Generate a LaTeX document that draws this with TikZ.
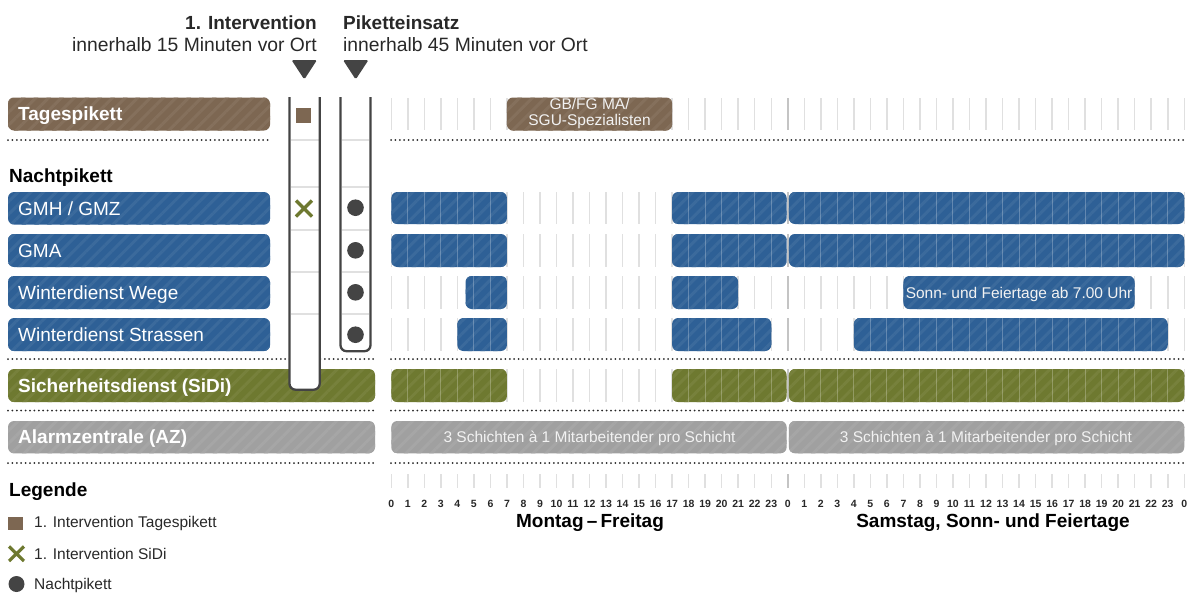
\documentclass[tikz,border=0pt]{standalone}
\usepackage{fontspec}
\setmainfont{Liberation Sans}
\usetikzlibrary{patterns.meta}
\definecolor{cbrown}{RGB}{125,103,82}
\definecolor{cblue}{RGB}{46,96,150}
\definecolor{colive}{RGB}{110,121,48}
\definecolor{cgray}{RGB}{160,160,160}
\definecolor{cdark}{RGB}{68,68,68}
\definecolor{ctext}{RGB}{40,40,40}
\definecolor{cgrid}{RGB}{224,224,224}
\definecolor{cgridd}{RGB}{196,196,196}
\newcommand{\fsz}[1]{\fontsize{#1}{#1}\selectfont}
\newcommand{\hx}[1]{\fpeval{391.3+16.52*(#1)}}
\newcommand{\stripebox}[5]{%
  \fill[#5, rounded corners=6pt] (#1,#2) rectangle (#3,#4);
  \fill[rounded corners=6pt, pattern={Lines[angle=45,distance=9pt,line width=3pt]}, pattern color=#5!94!white] (#1,#2) rectangle (#3,#4);
}
\newcommand{\chartbar}[5]{%
  \stripebox{\hx{#3}}{#1}{\hx{#4}}{#2}{#5}
  \pgfmathtruncatemacro{\hs}{floor(#3)+1}
  \pgfmathtruncatemacro{\he}{ceil(#4)-1}
  \foreach \h in {\hs,...,\he}{\draw[white, opacity=.25, line width=1pt] (\hx{\h},#1) -- (\hx{\h},#2);}
}
\begin{document}
\begin{tikzpicture}[x=1pt,y=-1pt,
  txt/.style={inner sep=0pt, text=ctext},
  lbl/.style={inner sep=0pt, anchor=base west, text=white, font=\fsz{19}},
  bartxt/.style={inner sep=0pt, anchor=base, text=white!95!black, font=\fsz{15.5}},
  dotline/.style={line width=2pt, line cap=round, dash pattern=on 0pt off 4.4pt, ctext},
  gridl/.style={cgrid, line width=1.5pt},
  gridm/.style={cgridd, line width=2.5pt},
  colline/.style={cdark, line width=2.3pt, rounded corners=6pt},
  sepl/.style={cgrid, line width=1.2pt}]
\useasboundingbox (0,0) rectangle (1192,592);

% ---------- header ----------
\node[txt, anchor=base east, font=\fsz{19}\bfseries] (h1a) at (317,29) {1. Intervention};
\node[txt, anchor=base east, font=\fsz{19.3}] (h1b) at (317,51.5) {innerhalb 15 Minuten vor Ort};
\node[txt, anchor=base west, font=\fsz{19}\bfseries] (h2a) at (343,29) {Piketteinsatz};
\node[txt, anchor=base west, font=\fsz{19.3}] (h2b) at (343,51.5) {innerhalb 45 Minuten vor Ort};
\fill[cdark, rounded corners=1.5pt] (291.5,60) -- (317,60) -- (304.3,79.5) -- cycle;
\fill[cdark, rounded corners=1.5pt] (343,60) -- (368.5,60) -- (355.7,79.5) -- cycle;

% ---------- grid ----------
\foreach \ya/\yb in {98/130,192/224,234/267,276/309,318/351,369/402,474/488}{
  \foreach \h in {0,...,48}{
    \ifnum\h=24 \draw[gridm] (\hx{\h},\ya) -- (\hx{\h},\yb);
    \else \draw[gridl] (\hx{\h},\ya) -- (\hx{\h},\yb); \fi
  }
}

% ---------- row labels ----------
\stripebox{8}{97.5}{270}{130.5}{cbrown}
\node[lbl, font=\fsz{19}\bfseries] (lt) at (18,120.8) {Tagespikett};
\node[txt, anchor=base west, font=\fsz{19}\bfseries, text=black] (ln) at (9,182) {Nachtpikett};
\stripebox{8}{192}{270}{224.5}{cblue}
\node[lbl] (l1) at (18,215) {GMH / GMZ};
\stripebox{8}{234}{270}{267}{cblue}
\node[lbl] (l2) at (18,257.3) {GMA};
\stripebox{8}{276}{270}{309}{cblue}
\node[lbl] (l3) at (18,299.3) {Winterdienst Wege};
\stripebox{8}{318}{270}{351}{cblue}
\node[lbl] (l4) at (18,341.3) {Winterdienst Strassen};
\stripebox{8}{369}{375}{402}{colive}
\node[lbl, font=\fsz{19}\bfseries] (l5) at (18,392.3) {Sicherheitsdienst (SiDi)};
\stripebox{8}{421}{375}{453.3}{cgray}
\node[lbl, font=\fsz{19}\bfseries] (l6) at (18,443.8) {Alarmzentrale (AZ)};

% ---------- dotted separators ----------
\draw[dotline] (8,140) -- (270,140);
\draw[dotline] (391,140) -- (1185,140);
\foreach \y in {359,410.5,463}{
  \draw[dotline] (8,\y) -- (375,\y);
  \draw[dotline] (391,\y) -- (1185,\y);
}

% ---------- bars ----------
\stripebox{\hx{7}}{97.5}{\hx{17}}{130.5}{cbrown}
\node[bartxt] (tb1) at (\hx{12},109.5) {GB/FG MA/};
\node[bartxt] (tb2) at (\hx{12},125.5) {SGU-Spezialisten};

\chartbar{192}{224}{0}{7}{cblue}
\chartbar{192}{224}{17}{23.93}{cblue}
\chartbar{192}{224}{24.07}{48}{cblue}

\chartbar{234}{267}{0}{7}{cblue}
\chartbar{234}{267}{17}{23.93}{cblue}
\chartbar{234}{267}{24.07}{48}{cblue}

\chartbar{276}{309}{4.5}{7}{cblue}
\chartbar{276}{309}{17}{21}{cblue}
\stripebox{\hx{31}}{276}{\hx{45}}{309}{cblue}
\node[bartxt] (wt) at (\hx{38},298) {Sonn- und Feiertage ab 7.00 Uhr};

\chartbar{318}{351}{4}{7}{cblue}
\chartbar{318}{351}{17}{23}{cblue}
\chartbar{318}{351}{28}{47}{cblue}

\chartbar{369}{402}{0}{7}{colive}
\chartbar{369}{402}{17}{23.93}{colive}
\chartbar{369}{402}{24.07}{48}{colive}

\stripebox{\hx{0}}{421}{\hx{23.93}}{453.3}{cgray}
\stripebox{\hx{24.07}}{421}{\hx{48}}{453.3}{cgray}
\node[bartxt] (az1) at (\hx{12},442.5) {3 Schichten à 1 Mitarbeitender pro Schicht};
\node[bartxt] (az2) at (\hx{36},442.5) {3 Schichten à 1 Mitarbeitender pro Schicht};

% ---------- columns ----------
\fill[white, rounded corners=6pt] (289.5,97) -- (289.5,389.7) -- (319.7,389.7) -- (319.7,97) -- cycle;
\fill[white, rounded corners=6pt] (340.5,97) -- (340.5,351.2) -- (370.5,351.2) -- (370.5,97) -- cycle;
\foreach \y in {140,187,230,272,314}{
  \draw[sepl] (290.7,\y) -- (318.5,\y);
  \draw[sepl] (341.7,\y) -- (369.3,\y);
}
\draw[colline] (289.5,97) -- (289.5,389.7) -- (319.7,389.7) -- (319.7,97);
\draw[colline] (340.5,97) -- (340.5,351.2) -- (370.5,351.2) -- (370.5,97);

% markers
\fill[cbrown] (296.3,108) rectangle (311.3,123);
\draw[colive, line width=3.2pt] (296,200.5) -- (312,216.5) (296,216.5) -- (312,200.5);
\foreach \y in {207.7,250.3,292.3,334.7}{\fill[cdark] (355.5,\y) circle (8.3pt);}

% ---------- axis ----------
\foreach \h in {0,...,48}{
  \pgfmathtruncatemacro{\lab}{mod(\h,24)}
  \node[txt, anchor=base, font=\fsz{10.5}\bfseries] (t\h) at (\hx{\h},507.5) {\lab};
}
\node[txt, anchor=base, font=\fsz{19}\bfseries, text=black] (d1) at (590,527) {Montag\,–\,Freitag};
\node[txt, anchor=base, font=\fsz{19}\bfseries, text=black] (d2) at (993,527) {Samstag, Sonn- und Feiertage};

% ---------- legend ----------
\node[txt, anchor=base west, font=\fsz{19}\bfseries, text=black] (lg) at (9,496.5) {Legende};
\fill[cbrown] (8.3,516.5) rectangle (22.7,529.5);
\node[txt, anchor=base west, font=\fsz{15.5}] (lg1) at (34,527.5) {1. Intervention Tagespikett};
\draw[colive, line width=3.2pt] (9,546.5) -- (24,561) (9,561) -- (24,546.5);
\node[txt, anchor=base west, font=\fsz{15.5}] (lg2) at (34,559.3) {1. Intervention SiDi};
\fill[cdark] (16.5,584) circle (8pt);
\node[txt, anchor=base west, font=\fsz{15.5}] (lg3) at (34,589) {Nachtpikett};
\end{tikzpicture}
\end{document}
